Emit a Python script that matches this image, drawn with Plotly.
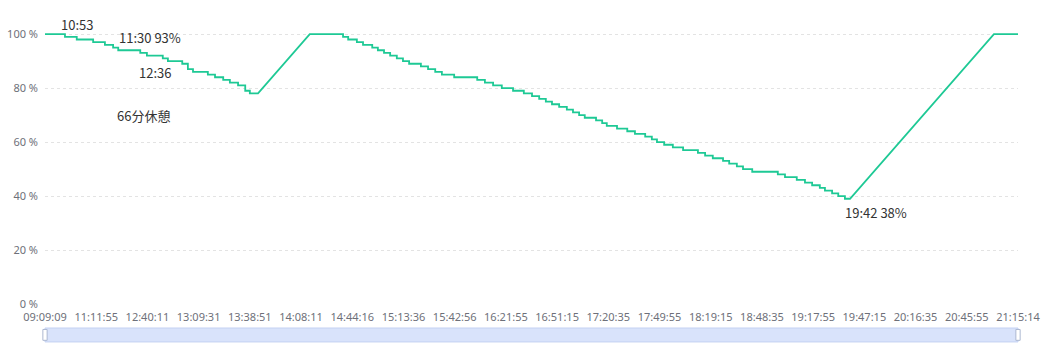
import plotly.graph_objects as go

# x positions are in units of one tick-label interval on the category-like time axis
tick_labels = ["09:09:09", "11:11:55", "12:40:11", "13:09:31", "13:38:51", "14:08:11",
               "14:44:16", "15:13:36", "15:42:56", "16:21:55", "16:51:15", "17:20:35",
               "17:49:55", "18:19:15", "18:48:35", "19:17:55", "19:47:15", "20:16:35",
               "20:45:55", "21:15:14"]

# battery level segments (start position, end position, level %)
seg_start = [0.00, 0.39, 0.62, 0.94, 1.17, 1.33, 1.43, 1.86, 1.99, 2.30, 2.40, 2.68, 2.79,
             2.89, 3.18, 3.32, 3.48, 3.61, 3.77, 3.91, 4.00,
             5.17, 5.82, 5.92, 6.09, 6.21, 6.39, 6.50, 6.62, 6.74, 6.87, 6.99, 7.11, 7.34,
             7.48, 7.62, 7.75, 7.99, 8.44, 8.59, 8.75, 8.92, 9.14, 9.35, 9.51, 9.65, 9.78,
             9.90, 10.04, 10.19, 10.31, 10.43, 10.54, 10.76, 10.88, 10.97, 11.17, 11.37,
             11.52, 11.72, 11.85, 11.95, 12.09, 12.26, 12.46, 12.75, 12.89, 13.04, 13.24,
             13.36, 13.51, 13.63, 13.81, 14.31, 14.45, 14.68, 14.84, 14.98, 15.13, 15.23,
             15.37, 15.49, 15.62,
             18.53]
seg_end = [0.39, 0.62, 0.94, 1.17, 1.33, 1.43, 1.86, 1.99, 2.30, 2.40, 2.68, 2.79, 2.89,
           3.18, 3.32, 3.48, 3.61, 3.77, 3.91, 4.00, 4.16,
           5.82, 5.92, 6.09, 6.21, 6.39, 6.50, 6.62, 6.74, 6.87, 6.99, 7.11, 7.34, 7.48,
           7.62, 7.75, 7.99, 8.44, 8.59, 8.75, 8.92, 9.14, 9.35, 9.51, 9.65, 9.78, 9.90,
           10.04, 10.19, 10.31, 10.43, 10.54, 10.76, 10.88, 10.97, 11.17, 11.37, 11.52,
           11.72, 11.85, 11.95, 12.09, 12.26, 12.46, 12.75, 12.89, 13.04, 13.24, 13.36,
           13.51, 13.63, 13.81, 14.31, 14.45, 14.68, 14.84, 14.98, 15.13, 15.23, 15.37,
           15.49, 15.62, 15.72,
           19.00]
seg_level = [100, 99, 98, 97, 96, 95, 94, 93, 92, 91, 90, 89, 87, 86, 85, 84, 83, 82, 81, 79, 78,
             100, 99, 98, 97, 96, 95, 94, 93, 92, 91, 90, 89, 88, 87, 86, 85, 84, 83, 82, 81,
             80, 79, 78, 77, 76, 75, 74, 73, 72, 71, 70, 69, 68, 67, 66, 65, 64, 63, 62, 61,
             60, 59, 58, 57, 56, 55, 54, 53, 52, 51, 50, 49, 48, 47, 46, 45, 44, 43, 42, 41,
             40, 39,
             100]

# text notes (label, x position, vertical placement as fraction of plot height)
note_text = ["10:53", "11:30 93%", "12:36", "66分休憩", "19:42 38%"]
note_x = [0.62, 2.05, 2.15, 1.93, 16.23]
note_y = [1.033, 0.982, 0.856, 0.694, 0.336]

y_ticks = [0, 20, 40, 60, 80, 100]

xs, ys = [], []
for s, e, lv in zip(seg_start, seg_end, seg_level):
    xs += [s, e]
    ys += [lv, lv]

fig = go.Figure()
fig.add_trace(go.Scatter(x=xs, y=ys, mode="lines",
                         line=dict(color="#1ec995", width=1.8),
                         hoverinfo="skip", showlegend=False))

for t, x, y in zip(note_text, note_x, note_y):
    fig.add_annotation(x=x, y=y, text=t, showarrow=False, xref="x", yref="paper",
                       xanchor="center", yanchor="middle",
                       font=dict(size=13, color="#333333",
                                 family="Noto Sans CJK SC, Noto Sans, sans-serif"))

# data-zoom slider look
fig.add_shape(type="rect", xref="paper", yref="paper", x0=0, x1=1, y0=-0.140, y1=-0.0886,
              fillcolor="#d9e3fb", line=dict(color="#c4d1f2", width=1))
for hx in (0, 1):
    fig.add_shape(type="rect", xref="paper", yref="paper",
                  x0=hx - 0.0022, x1=hx + 0.0022, y0=-0.134, y1=-0.094,
                  fillcolor="#ffffff", line=dict(color="#acb8d1", width=1))

fig.update_layout(
    width=1050, height=346,
    margin=dict(l=45, r=32, t=33, b=42),
    paper_bgcolor="white", plot_bgcolor="white",
    font=dict(family="Noto Sans, sans-serif", size=11, color="#6e7079"),
    xaxis=dict(range=[0, 19], tickmode="array", tickvals=list(range(len(tick_labels))),
               ticktext=tick_labels, showgrid=False, zeroline=False, showline=False,
               ticks="", automargin=False, ticklabelstandoff=5,
               tickfont=dict(size=11, color="#6e7079")),
    yaxis=dict(range=[0, 100.4], tickmode="array", tickvals=y_ticks,
               ticktext=[f"{v} %" for v in y_ticks], showgrid=True, gridcolor="#e3e3e3",
               griddash="dot", gridwidth=1, zeroline=False, showline=False, ticks="",
               automargin=False, ticklabelstandoff=6,
               tickfont=dict(size=11, color="#6e7079")),
)

fig.write_html("out.html")
